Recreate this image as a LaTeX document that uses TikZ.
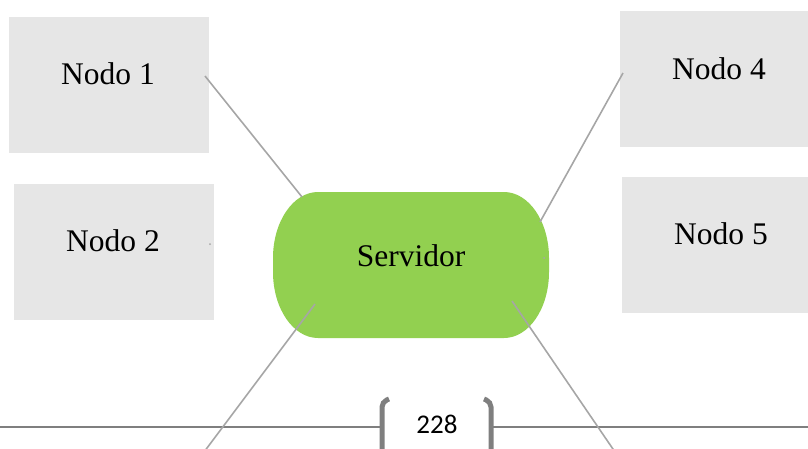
\documentclass[tikz,border=0pt]{standalone}
\usepackage{fontspec}
\setmainfont{Liberation Serif}
\newfontfamily\numfont{Carlito}
\begin{document}
\begin{tikzpicture}[x=1pt,y=-1pt,
  box/.style={fill=boxgray,draw=none,minimum width=200pt,minimum height=136pt},
  lbl/.style={font=\fontsize{31.5}{36}\selectfont},
  conn/.style={draw=linegray,line width=1.6pt},
  foot/.style={draw=footgray,line width=2.8pt}]
\definecolor{boxgray}{HTML}{E6E6E6}
\definecolor{linegray}{HTML}{A6A6A6}
\definecolor{footgray}{HTML}{7F7F7F}
\definecolor{srvgreen}{HTML}{92D050}
\useasboundingbox (0,0) rectangle (808,448);
% footer
\draw[foot] (0,427) -- (380,427);
\draw[foot] (492,427) -- (808,427);
\draw[draw=footgray,line width=5pt,rounded corners=5pt] (389,399) -- (382,402) -- (382,452);
\draw[draw=footgray,line width=5pt,rounded corners=5pt] (484,399) -- (491,402) -- (491,452);
\node[font=\numfont\fontsize{27}{30}\selectfont] (pg) at (437,424) {228};
% boxes
\node[box,minimum width=200pt] (n1) at (109,85) {};
\node[lbl] (t1) at (108,74) {Nodo 1};
\node[box,minimum width=200pt] (n2) at (114,252) {};
\node[lbl] (t2) at (113,241) {Nodo 2};
\node[box,minimum width=188pt] (n4) at (714,79) {};
\node[lbl] (t4) at (719,69) {Nodo 4};
\node[box,minimum width=186pt] (n5) at (715,245) {};
\node[lbl] (t5) at (721,234) {Nodo 5};
% server
\fill[srvgreen] (318,192) -- (504,192) arc[start angle=-90,end angle=0,x radius=45,y radius=66]
  -- (549,272) arc[start angle=0,end angle=90,x radius=45,y radius=66]
  -- (318,338) arc[start angle=90,end angle=180,x radius=45,y radius=66]
  -- (273,258) arc[start angle=180,end angle=270,x radius=45,y radius=66] -- cycle;
\node[lbl,minimum width=276pt,minimum height=146pt] (srv) at (411,265) {};
\node[lbl] (st) at (411,256) {Servidor};
% connector anchors
\coordinate (a1) at (205,76);
\coordinate (b1) at (302,197);
\coordinate (a4) at (623,73);
\coordinate (b4) at (540,222);
\coordinate (a3) at (315,304);
\coordinate (b3) at (204,452);
\coordinate (a6) at (512,301);
\coordinate (b6) at (615,452);
\draw[conn] (a1) -- (b1);
\draw[conn] (a4) -- (b4);
\draw[conn] (a3) -- (b3);
\draw[conn] (a6) -- (b6);
\fill[linegray] (210,244) circle (1pt);
\fill[linegray] (544,258) circle (1pt);
\end{tikzpicture}
\end{document}
